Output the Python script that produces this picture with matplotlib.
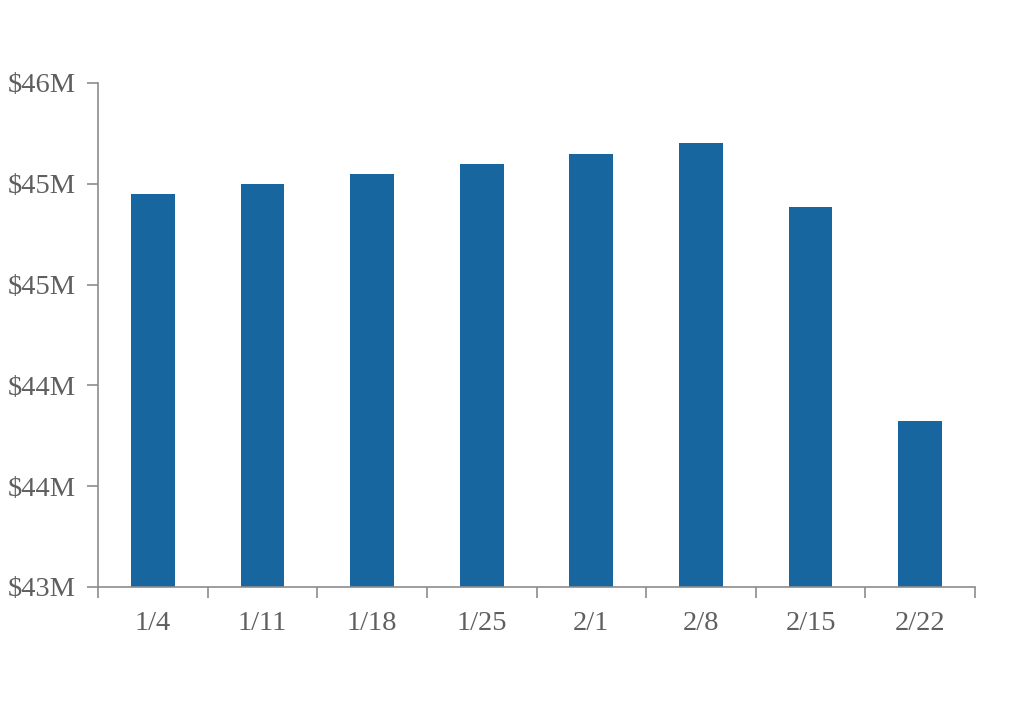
import numpy as np
import matplotlib
matplotlib.use("Agg")
import matplotlib.pyplot as plt
from matplotlib.ticker import FuncFormatter, FixedLocator

# weekly values, $M
weeks = ['1/4', '1/11', '1/18', '1/25', '2/1', '2/8', '2/15', '2/22']
values = [45.34, 45.40, 45.46, 45.52, 45.58, 45.64, 45.26, 43.99]
y_ticks = [43.0, 43.6, 44.2, 44.8, 45.4, 46.0]

BAR = '#1866a0'
GREY = '#5f5f5f'
AXIS = '#8c8c8c'

plt.rcParams['font.family'] = ['Liberation Serif', 'DejaVu Serif']

fig = plt.figure(figsize=(10.24, 7.04), dpi=100)
ax = fig.add_axes([98 / 1024, 1 - 587 / 704, (975 - 98) / 1024, (587 - 83) / 704])

x = np.arange(len(weeks))
ax.bar(x, values, width=0.4, color=BAR, bottom=0)

ax.set_xlim(-0.5, len(weeks) - 0.5)
ax.set_ylim(43, 46)
ax.set_yticks(y_ticks)
ax.yaxis.set_major_formatter(FuncFormatter(lambda v, _: f'${v:.0f}M'))

ax.set_xticks(x)
ax.set_xticklabels(weeks)
ax.xaxis.set_minor_locator(FixedLocator(np.arange(-0.5, len(weeks), 1.0)))

ax.tick_params(axis='x', which='major', length=0, pad=17, labelsize=20.5, colors=GREY)
ax.tick_params(axis='x', which='minor', length=8, width=1.2, color=AXIS, direction='out')
ax.tick_params(axis='y', length=8, width=1.2, color=AXIS, labelsize=20.5, labelcolor=GREY, pad=8)

for side in ['top', 'right']:
    ax.spines[side].set_visible(False)
for side in ['left', 'bottom']:
    ax.spines[side].set_color(AXIS)
    ax.spines[side].set_linewidth(1.2)

fig.savefig('out.png', dpi=100)
